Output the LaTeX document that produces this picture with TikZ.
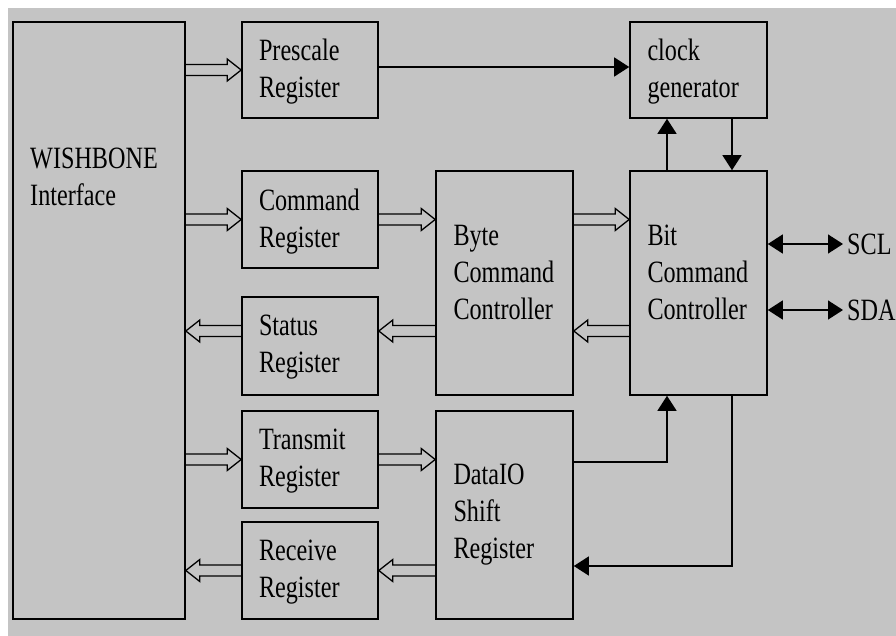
\documentclass[tikz,border=0pt]{standalone}
\usepackage{fontspec}
\setmainfont{Liberation Serif}[FakeStretch=0.78]
\usetikzlibrary{arrows.meta,calc}
\definecolor{bggray}{gray}{0.77}
\tikzset{
  blk/.style={draw, line width=1.6pt, inner sep=0pt, text width=102pt, align=left,
    font=\fontsize{31}{37}\selectfont},
  lbl/.style={inner sep=0pt, align=left, font=\fontsize{31}{37}\selectfont},
  sig/.style={line width=1.3pt, -{Triangle[length=15pt,width=19pt]}},
  bidir/.style={line width=1.3pt, {Triangle[length=15pt,width=19pt]}-{Triangle[length=15pt,width=19pt]}},
  bus/.style={line width=1.3pt, line join=miter}
}
% hollow bus arrow: from x of #1 to x of #2, at the height of #3
\newcommand{\busarrow}[3]{%
  \draw[bus] let \p1=(#1), \p2=(#2), \p3=(#3), \n1={ifthenelse(\x2>\x1,14,-14)} in
    (\x1,\y3+5.5pt) -- (\x2-\n1,\y3+5.5pt) -- (\x2-\n1,\y3+11pt) -- (\x2,\y3)
    -- (\x2-\n1,\y3-11pt) -- (\x2-\n1,\y3-5.5pt) -- (\x1,\y3-5.5pt);}
\begin{document}
\begin{tikzpicture}[x=1pt,y=-1pt]
\useasboundingbox (0,0) rectangle (896,636);
\fill[bggray] (8,8) rectangle (896,636);

% blocks
\node[blk, minimum width=172pt, minimum height=597pt] (wb) at (99,320.5) {};
\node[lbl, anchor=north west] (wbl) at (30,147.5) {WISHBONE\\Interface};
\node[blk, minimum width=136pt, minimum height=96pt, text depth=40pt] (pre) at (310,70) {Prescale\\Register};
\node[blk, minimum width=136pt, minimum height=97pt, text depth=40pt] (cmd) at (310,219.5) {Command\\Register};
\node[blk, minimum width=136pt, minimum height=98pt, text depth=41pt] (st) at (310,346) {Status\\Register};
\node[blk, minimum width=136pt, minimum height=97pt, text depth=41pt] (tx) at (310,459.5) {Transmit\\Register};
\node[blk, minimum width=136pt, minimum height=97pt, text depth=40pt] (rx) at (310,570.5) {Receive\\Register};
\node[blk, minimum width=137pt, minimum height=224pt, text depth=96pt] (byte) at (504.5,283) {Byte\\Command\\Controller};
\node[blk, minimum width=137pt, minimum height=208pt, text depth=82pt] (dio) at (504.5,515) {DataIO\\Shift\\Register};
\node[blk, minimum width=137pt, minimum height=96pt, text depth=40pt] (clk) at (698.5,70) {clock\\generator};
\node[blk, minimum width=137pt, minimum height=224pt, text depth=96pt] (bit) at (698.5,283) {Bit\\Command\\Controller};
\node[lbl, anchor=west] (scl) at (847,244) {SCL};
\node[lbl, anchor=west] (sda) at (847,310) {SDA};
\coordinate (stbus) at ([yshift=15pt]st.west);

% bus arrows
\busarrow{wb.east}{pre.west}{pre.west}
\busarrow{wb.east}{cmd.west}{cmd.west}
\busarrow{st.west}{wb.east}{stbus}
\busarrow{wb.east}{tx.west}{tx.west}
\busarrow{rx.west}{wb.east}{rx.west}
\busarrow{cmd.east}{byte.west}{cmd.east}
\busarrow{byte.east}{bit.west}{cmd.east}
\busarrow{bit.west}{byte.east}{stbus}
\busarrow{byte.west}{st.east}{stbus}
\busarrow{tx.east}{dio.west}{tx.east}
\busarrow{dio.west}{rx.east}{rx.east}

% control lines
\draw[sig] ([yshift=3pt]pre.east) -- ([yshift=3pt]clk.west);
\draw[sig] ([xshift=-31.5pt]bit.north) -- ([xshift=-31.5pt]clk.south);
\draw[sig] ([xshift=33.5pt]clk.south) -- ([xshift=33.5pt]bit.north);
\draw[sig] ([yshift=53pt]dio.east) -| ([xshift=-31.5pt]bit.south);
\draw[sig] ([xshift=33.5pt]bit.south) |- ([yshift=-51pt]dio.east);
\draw[bidir] (bit.east |- scl.west) -- ([xshift=-4pt]scl.west);
\draw[bidir] (bit.east |- sda.west) -- ([xshift=-4pt]sda.west);
\end{tikzpicture}
\end{document}
